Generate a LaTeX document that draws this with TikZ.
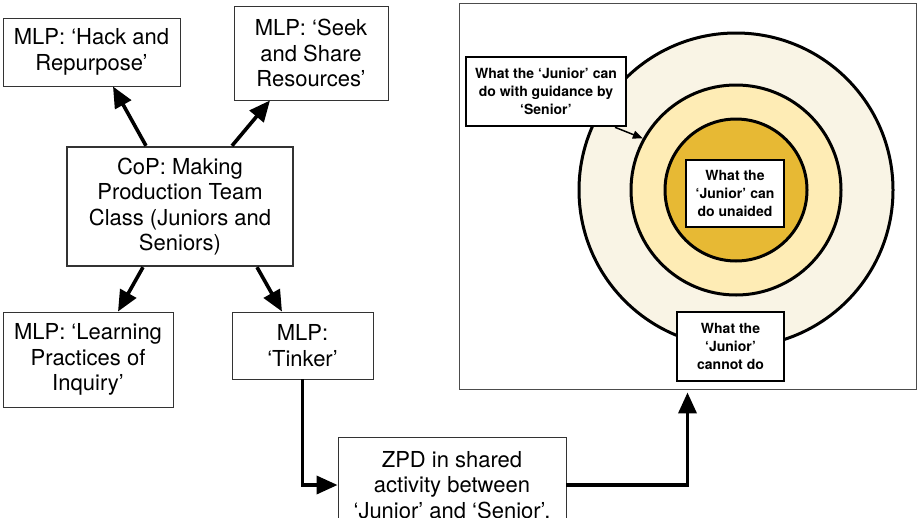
\documentclass[tikz,border=0pt]{standalone}
\usepackage{fontspec}
\setmainfont{TeX Gyre Heros}
\usepackage{xcolor}
\usetikzlibrary{arrows.meta}

\definecolor{zpdout}{HTML}{F9F4E5}
\definecolor{zpdmid}{HTML}{FEECB5}
\definecolor{zpdin}{HTML}{E7B934}

\begin{document}
\begin{tikzpicture}[x=1pt, y=-1pt,
    mlp/.style={draw=black!80, line width=0.9pt, fill=white, align=center,
      font=\fontsize{22}{25.5}\selectfont, inner sep=2pt},
    ring/.style={circle, draw, line width=3pt, inner sep=0pt},
    tag/.style={draw, line width=2.6pt, fill=white, align=center,
      font=\fontsize{14}{17.7}\selectfont\bfseries, inner sep=1pt},
    arr/.style={line width=3.6pt, -{Triangle[length=21pt,width=18pt]}}]
  \clip (0,0) rectangle (918,517);
  \fill[white] (0,0) rectangle (918,517);

  % left side
  \node[mlp, minimum width=177, minimum height=68] (hack) at (91.5,52)
    {MLP: ‘Hack and\\Repurpose’};
  \node[mlp, minimum width=154, minimum height=94] (seek) at (311,53)
    {MLP: ‘Seek\\and Share\\Resources’};
  \node[mlp, line width=2.4pt, minimum width=226, minimum height=119] (cop) at (180,206.5)
    {CoP: Making\\Production Team\\Class (Juniors and\\Seniors)};
  \node[mlp, minimum width=170, minimum height=95] (learn) at (88,359.5)
    {MLP: ‘Learning\\Practices of\\Inquiry’};
  \node[mlp, minimum width=141, minimum height=67] (tinker) at (302.5,345.5)
    {MLP:\\‘Tinker’};
  \node[mlp, minimum width=228, minimum height=96] (zpd) at (452,485)
    {ZPD in shared\\activity between\\‘Junior’ and ‘Senior’.};

  % right side
  \node[draw=black!70, line width=0.9pt, minimum width=457, minimum height=386] (frame) at (687.5,196) {};
  \node[ring, fill=zpdout, minimum size=314] (outer) at (736,190) {};
  \node[ring, fill=zpdmid, minimum size=210] (mid) at (736,190) {};
  \node[ring, fill=zpdin, minimum size=142] (inner) at (736,190) {};
  \node[tag, minimum width=160, minimum height=69] (guide) at (546,91.5)
    {What the ‘Junior’ can\\do with guidance by\\‘Senior’};
  \node[tag, minimum width=98, minimum height=67] (unaided) at (735,193.5)
    {What the\\‘Junior’ can\\do unaided};
  \node[tag, minimum width=107, minimum height=69] (cannot) at (730.5,346.5)
    {What the\\‘Junior’\\cannot do};

  % connectors
  \draw[arr] ([xshift=-34]cop.north) -- ([xshift=21.5]hack.south);
  \draw[arr] ([xshift=52]cop.north) -- ([xshift=-41]seek.south);
  \draw[arr] ([xshift=-37]cop.south) -- ([xshift=30]learn.north);
  \draw[arr] ([xshift=77]cop.south) -- ([xshift=-20.5]tinker.north);
  \draw[arr] (tinker.south) |- (zpd.west);
  \draw[arr, shorten >=3pt] (zpd.east) -| (frame.south);
  \draw[line width=1.5pt, -{Triangle[length=10pt,width=8pt]}] ([xshift=69]guide.south) -- (mid.151);
\end{tikzpicture}
\end{document}
